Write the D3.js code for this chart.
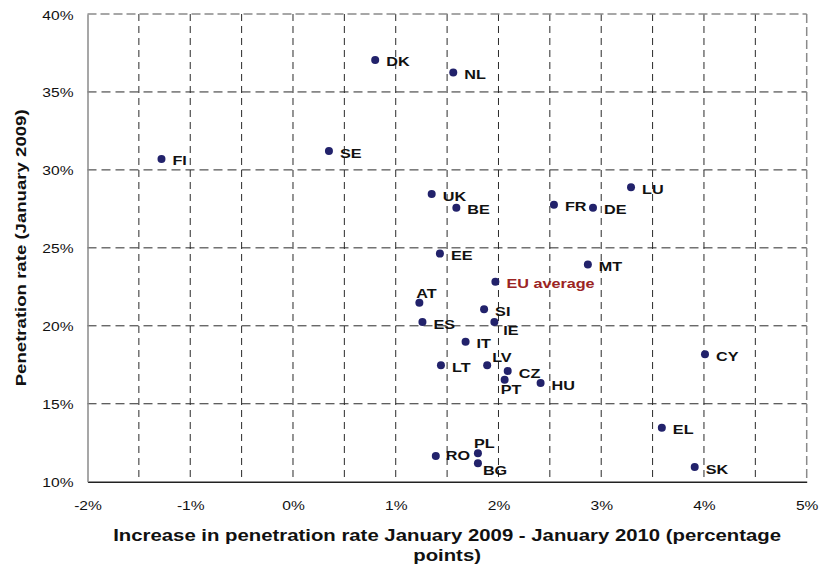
<!DOCTYPE html>
<html>
<head>
<meta charset="utf-8">
<script src="https://cdn.jsdelivr.net/npm/d3@7"></script>
<style>
  html, body { margin: 0; padding: 0; background: #fff; }
  svg { display: block; }
</style>
</head>
<body>
<svg id="chart" width="822" height="568"></svg>
<script>
// ---- data ----
const countries = ["FI","SE","DK","NL","UK","BE","FR","DE","LU","EE","MT","EU average","AT","SI","ES","IE","IT","CY","LT","LV","CZ","PT","HU","EL","PL","RO","BG","SK"];
const increase = [-1.28, 0.35, 0.80, 1.56, 1.35, 1.59, 2.54, 2.92, 3.29, 1.43, 2.87, 1.97, 1.23, 1.86, 1.26, 1.96, 1.68, 4.01, 1.44, 1.89, 2.09, 2.06, 2.41, 3.59, 1.80, 1.39, 1.80, 3.91];
const rate = [30.70, 31.21, 37.05, 36.24, 28.45, 27.58, 27.77, 27.58, 28.88, 24.63, 23.94, 22.83, 21.48, 21.06, 20.24, 20.24, 18.98, 18.17, 17.47, 17.47, 17.10, 16.54, 16.33, 13.46, 11.82, 11.65, 11.18, 10.94];
const xTicks = [-2, -1, 0, 1, 2, 3, 4, 5];
const xTickLabels = ["-2%", "-1%", "0%", "1%", "2%", "3%", "4%", "5%"];
const yTicks = [10, 15, 20, 25, 30, 35, 40];
const yTickLabels = ["10%", "15%", "20%", "25%", "30%", "35%", "40%"];
const xGrid = [-1.5, -1, -0.5, 0, 0.5, 1, 1.5, 2, 2.5, 3, 3.5, 4, 4.5];
const yGrid = [15, 20, 25, 30, 35];
const xTitleLines = ["Increase in penetration rate January 2009 - January 2010 (percentage", "points)"];
const yTitle = "Penetration rate (January 2009)";

// ---- layout (label placement tweaks) ----
const defaultOffset = [11, 6.5];
const labelOffset = { "AT": [-3, -5], "IE": [9, 13], "LV": [5, -3], "PT": [-4, 14], "PL": [-4, -5], "BG": [5, 12], "RO": [10, 4.5] };
const STRETCH = 1.2;
const FONT = "'Liberation Sans', Arial, sans-serif";

const svg = d3.select("#chart");
const pLeft = 87.5, pRight = 806.7, pTop = 14, pBottom = 481.7;

const x = d3.scaleLinear().domain([-2, 5]).range([pLeft, pRight]);
const y = d3.scaleLinear().domain([10, 40]).range([pBottom, pTop]);

// grid
const g = svg.append("g");
g.selectAll("line.vg").data(xGrid).enter().append("line")
  .attr("x1", d => x(d)).attr("x2", d => x(d))
  .attr("y1", pTop).attr("y2", pBottom)
  .attr("stroke", "#2a2a2a").attr("stroke-width", 1).attr("stroke-dasharray", "7,5");
g.selectAll("line.hg").data(yGrid).enter().append("line")
  .attr("x1", pLeft).attr("x2", pRight)
  .attr("y1", d => y(d)).attr("y2", d => y(d))
  .attr("stroke", "#2a2a2a").attr("stroke-width", 1).attr("stroke-dasharray", "9,5");
// top & right border (dashed gray)
g.append("line").attr("x1", pLeft).attr("x2", pRight).attr("y1", y(40)).attr("y2", y(40))
  .attr("stroke", "#8a8a8a").attr("stroke-width", 1.5).attr("stroke-dasharray", "9,4");
g.append("line").attr("x1", x(5)).attr("x2", x(5)).attr("y1", pTop).attr("y2", pBottom)
  .attr("stroke", "#8a8a8a").attr("stroke-width", 1.5).attr("stroke-dasharray", "9,4");

// axes
const xAxis = d3.axisBottom(x).tickValues(xTicks).tickSize(0).tickFormat((d, i) => xTickLabels[i]);
const yAxis = d3.axisLeft(y).tickValues(yTicks).tickSize(0).tickFormat((d, i) => yTickLabels[i]);

const gx = svg.append("g").attr("transform", `translate(0,${pBottom})`).call(xAxis);
gx.select(".domain").attr("stroke", "#222").attr("stroke-width", 1.5);
gx.selectAll(".tick text")
  .attr("font-family", FONT).attr("font-size", 13).attr("fill", "#111")
  .attr("y", 0).attr("dy", 0)
  .attr("transform", `translate(0,28) scale(${STRETCH},1)`);

const gy = svg.append("g").attr("transform", `translate(${pLeft},0)`).call(yAxis);
gy.select(".domain").attr("stroke", "#8a8a8a").attr("stroke-width", 1.5);
gy.selectAll(".tick text")
  .attr("font-family", FONT).attr("font-size", 13).attr("fill", "#111")
  .attr("x", 0).attr("dy", 0).attr("text-anchor", "end")
  .attr("transform", `translate(-14,5) scale(${STRETCH},1)`);

// points
const data = countries.map((c, i) => ({ name: c, x: increase[i], y: rate[i] }));
svg.append("g").selectAll("circle").data(data).enter().append("circle")
  .attr("cx", d => x(d.x)).attr("cy", d => y(d.y)).attr("r", 4)
  .attr("fill", "#22226b");

// labels
svg.append("g").selectAll("text").data(data).enter().append("text")
  .attr("transform", d => {
    const o = labelOffset[d.name] || defaultOffset;
    return `translate(${x(d.x) + o[0]},${y(d.y) + o[1]}) scale(${STRETCH},1)`;
  })
  .attr("font-family", FONT).attr("font-weight", "bold")
  .attr("font-size", 13.5)
  .attr("fill", d => d.name === "EU average" ? "#9b2424" : "#111")
  .text(d => d.name);

// axis titles
svg.append("g").selectAll("text").data(xTitleLines).enter().append("text")
  .attr("transform", (d, i) => `translate(${(pLeft + pRight) / 2},${541 + i * 20}) scale(1.24,1)`)
  .attr("text-anchor", "middle")
  .attr("font-family", FONT).attr("font-weight", "bold").attr("font-size", 16.4).attr("fill", "#111")
  .text(d => d);

svg.append("text")
  .attr("transform", `translate(26,${(pTop + pBottom) / 2}) rotate(-90) scale(${STRETCH},1)`)
  .attr("text-anchor", "middle")
  .attr("font-family", FONT).attr("font-weight", "bold").attr("font-size", 15.5).attr("fill", "#111")
  .text(yTitle);
</script>
</body>
</html>
